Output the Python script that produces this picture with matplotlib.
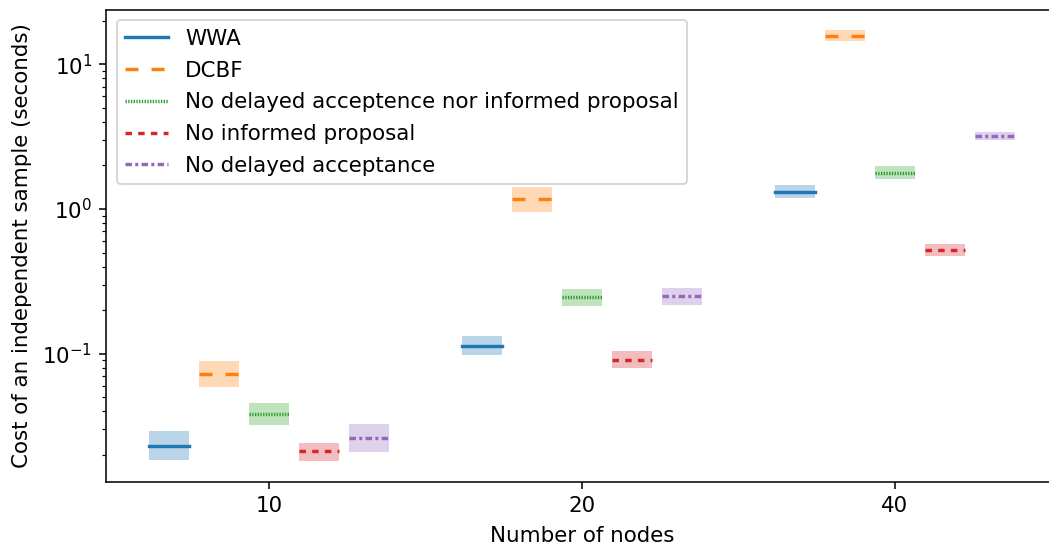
import matplotlib
matplotlib.use("Agg")
import matplotlib.pyplot as plt
import numpy as np

nodes = ["10", "20", "40"]
series = ["WWA", "DCBF", "No delayed acceptence nor informed proposal",
          "No informed proposal", "No delayed acceptance"]

wwa_mid = [0.0231, 0.1135, 1.316]
wwa_lo = [0.0184, 0.0985, 1.197]
wwa_hi = [0.0294, 0.133, 1.464]

dcbf_mid = [0.0728, 1.17, 15.8]
dcbf_lo = [0.0592, 0.949, 14.4]
dcbf_hi = [0.0895, 1.426, 17.15]

nodanip_mid = [0.0386, 0.247, 1.78]
nodanip_lo = [0.0320, 0.215, 1.62]
nodanip_hi = [0.0459, 0.279, 1.98]

noip_mid = [0.0211, 0.091, 0.521]
noip_lo = [0.0181, 0.080, 0.472]
noip_hi = [0.0243, 0.1037, 0.571]

noda_mid = [0.0262, 0.250, 3.19]
noda_lo = [0.0209, 0.217, 2.98]
noda_hi = [0.0327, 0.286, 3.41]

mids = [wwa_mid, dcbf_mid, nodanip_mid, noip_mid, noda_mid]
los = [wwa_lo, dcbf_lo, nodanip_lo, noip_lo, noda_lo]
his = [wwa_hi, dcbf_hi, nodanip_hi, noip_hi, noda_hi]

colors = ["#1f77b4", "#ff7f0e", "#2ca02c", "#d62728", "#9467bd"]
styles = ["-", (0, (3.83, 3.83)), (0, (0.4, 0.4)), (0, (1.9, 1.83)),
          (0, (1.9, 0.97, 0.88, 0.97))]

plt.rcParams["font.size"] = 11

dpi = 140
fig = plt.figure(figsize=(1049 / dpi, 546 / dpi), dpi=dpi)
ax = fig.add_axes([106 / 1049, 64 / 546, (1057.7 - 106) / 1049, (482 - 9.5) / 546])

half = 0.064
for i in range(5):
    off = -0.32 + 0.16 * i
    for g in range(3):
        x = np.array([g + off - half, g + off + half])
        ax.fill_between(x, [los[i][g]] * 2, [his[i][g]] * 2,
                        color=colors[i], alpha=0.3, linewidth=0)
        ax.plot(x, [mids[i][g]] * 2, color=colors[i], linestyle=styles[i],
                linewidth=1.75, label=series[i] if g == 0 else None)

ax.set_yscale("log")
ax.set_xlim(-0.52, 2.52)
ax.set_ylim(0.01298, 23.9)
ax.set_xticks(range(3))
ax.set_xticklabels(nodes)
ax.set_xlabel("Number of nodes", labelpad=5.5)
ax.set_ylabel("Cost of an independent sample (seconds)", labelpad=5.5)
ax.legend(loc="upper left", labelspacing=0.55)

fig.savefig("out.png", dpi=dpi)
